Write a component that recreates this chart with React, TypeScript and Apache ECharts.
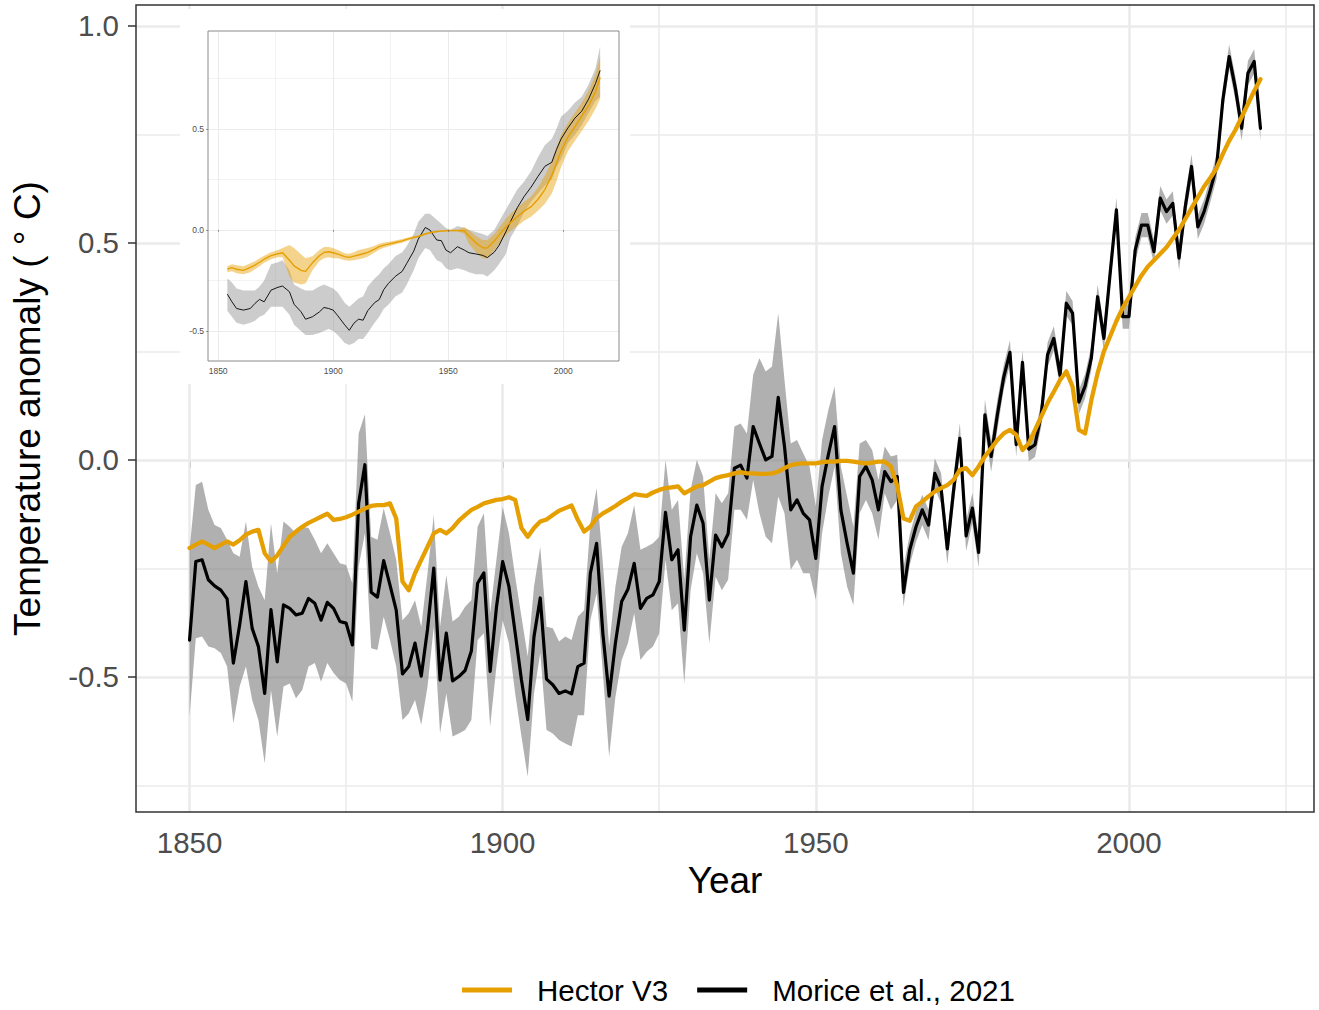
import React, { useEffect, useRef } from 'react';
import * as echarts from 'echarts';

// ---------------- data ----------------
const startYear = 1850;
const years: number[] = Array.from({ length: 172 }, (_, i) => startYear + i);

// Morice et al., 2021 (HadCRUT5) annual anomaly
const obs = [
  -0.415, -0.234, -0.23, -0.276, -0.29, -0.3, -0.32, -0.468, -0.38, -0.28,
  -0.388, -0.43, -0.538, -0.345, -0.465, -0.334, -0.342, -0.357, -0.353, -0.319,
  -0.33, -0.369, -0.328, -0.342, -0.372, -0.376, -0.426, -0.1, -0.011, -0.305,
  -0.316, -0.232, -0.288, -0.346, -0.493, -0.476, -0.422, -0.498, -0.39, -0.249,
  -0.507, -0.399, -0.509, -0.499, -0.485, -0.44, -0.284, -0.26, -0.487, -0.34,
  -0.234, -0.292, -0.399, -0.507, -0.598, -0.407, -0.318, -0.505, -0.518, -0.538,
  -0.532, -0.539, -0.476, -0.468, -0.261, -0.192, -0.4, -0.544, -0.422, -0.326,
  -0.298, -0.238, -0.342, -0.319, -0.311, -0.28, -0.121, -0.23, -0.207, -0.392,
  -0.177, -0.104, -0.146, -0.323, -0.173, -0.2, -0.17, -0.019, -0.012, -0.042,
  0.077, 0.038, 0.0, 0.008, 0.144, 0.031, -0.115, -0.092, -0.123, -0.138,
  -0.227, -0.061, 0.012, 0.077, -0.115, -0.192, -0.261, -0.038, -0.015, -0.046,
  -0.115, -0.027, -0.05, -0.038, -0.305, -0.207, -0.154, -0.115, -0.15, -0.031,
  -0.065, -0.205, -0.07, 0.05, -0.175, -0.111, -0.213, 0.104, 0.008, 0.105,
  0.19, 0.248, 0.035, 0.225, 0.025, 0.035, 0.105, 0.242, 0.28, 0.195,
  0.361, 0.338, 0.133, 0.17, 0.235, 0.376, 0.28, 0.43, 0.576, 0.33,
  0.33, 0.484, 0.541, 0.541, 0.48, 0.603, 0.572, 0.591, 0.465, 0.584,
  0.676, 0.537, 0.572, 0.622, 0.676, 0.83, 0.929, 0.856, 0.764, 0.891,
  0.918, 0.764,
];

const obsUpper = [
  -0.207, -0.058, -0.05, -0.115, -0.15, -0.157, -0.184, -0.215, -0.223, -0.142,
  -0.246, -0.292, -0.323, -0.146, -0.261, -0.142, -0.154, -0.169, -0.154, -0.157,
  -0.184, -0.215, -0.192, -0.215, -0.238, -0.242, -0.284, 0.061, 0.105, -0.177,
  -0.184, -0.111, -0.169, -0.23, -0.369, -0.353, -0.323, -0.384, -0.261, -0.127,
  -0.384, -0.265, -0.372, -0.361, -0.338, -0.323, -0.154, -0.123, -0.353, -0.23,
  -0.108, -0.169, -0.269, -0.361, -0.453, -0.292, -0.2, -0.384, -0.388, -0.418,
  -0.407, -0.415, -0.361, -0.346, -0.146, -0.065, -0.238, -0.43, -0.292, -0.2,
  -0.169, -0.104, -0.207, -0.2, -0.192, -0.177, 0.0, -0.115, -0.092, -0.276,
  -0.069, 0.0, -0.038, -0.23, -0.077, -0.1, -0.077, 0.077, 0.084, 0.061,
  0.196, 0.234, 0.204, 0.215, 0.338, 0.184, 0.038, 0.046, 0.015, -0.015,
  -0.107, 0.046, 0.115, 0.169, -0.015, -0.084, -0.154, 0.038, 0.046, 0.023,
  -0.046, 0.031, 0.008, 0.012, -0.246, -0.172, -0.119, -0.08, -0.115, 0.004,
  -0.03, -0.17, -0.035, 0.085, -0.14, -0.076, -0.178, 0.139, 0.043, 0.14,
  0.218, 0.276, 0.063, 0.253, 0.053, 0.063, 0.133, 0.27, 0.308, 0.223,
  0.389, 0.366, 0.161, 0.198, 0.263, 0.404, 0.308, 0.458, 0.604, 0.358,
  0.358, 0.512, 0.569, 0.569, 0.508, 0.631, 0.6, 0.619, 0.493, 0.612,
  0.704, 0.565, 0.6, 0.65, 0.704, 0.858, 0.957, 0.884, 0.792, 0.919,
  0.946, 0.792,
];

const obsLower = [
  -0.591, -0.411, -0.407, -0.43, -0.434, -0.445, -0.476, -0.607, -0.522, -0.476,
  -0.553, -0.599, -0.699, -0.53, -0.637, -0.522, -0.515, -0.549, -0.53, -0.476,
  -0.468, -0.511, -0.468, -0.491, -0.507, -0.515, -0.557, -0.246, -0.169, -0.434,
  -0.438, -0.361, -0.415, -0.476, -0.599, -0.584, -0.553, -0.61, -0.522, -0.384,
  -0.63, -0.538, -0.637, -0.63, -0.622, -0.599, -0.415, -0.399, -0.614, -0.476,
  -0.369, -0.422, -0.538, -0.637, -0.73, -0.538, -0.445, -0.622, -0.63, -0.645,
  -0.653, -0.66, -0.588, -0.588, -0.369, -0.307, -0.491, -0.684, -0.546, -0.461,
  -0.422, -0.353, -0.461, -0.442, -0.43, -0.399, -0.23, -0.346, -0.33, -0.515,
  -0.3, -0.215, -0.261, -0.422, -0.269, -0.3, -0.276, -0.115, -0.115, -0.138,
  -0.046, -0.123, -0.177, -0.192, -0.084, -0.123, -0.253, -0.23, -0.261, -0.261,
  -0.322, -0.169, -0.084, -0.015, -0.215, -0.292, -0.334, -0.123, -0.092, -0.123,
  -0.184, -0.077, -0.115, -0.092, -0.338, -0.242, -0.189, -0.15, -0.185, -0.066,
  -0.1, -0.24, -0.105, 0.015, -0.21, -0.146, -0.248, 0.069, -0.027, 0.07,
  0.162, 0.22, 0.007, 0.197, -0.003, 0.007, 0.077, 0.214, 0.252, 0.167,
  0.333, 0.31, 0.105, 0.142, 0.207, 0.348, 0.252, 0.402, 0.548, 0.302,
  0.302, 0.456, 0.513, 0.513, 0.452, 0.575, 0.544, 0.563, 0.437, 0.556,
  0.648, 0.509, 0.544, 0.594, 0.648, 0.802, 0.901, 0.828, 0.736, 0.863,
  0.89, 0.736,
];

// Hector V3 model output
const hector = [
  -0.203, -0.195, -0.188, -0.195, -0.203, -0.195, -0.188, -0.195, -0.185, -0.172,
  -0.165, -0.161, -0.215, -0.234, -0.22, -0.198, -0.177, -0.165, -0.154, -0.145,
  -0.138, -0.131, -0.124, -0.138, -0.136, -0.132, -0.126, -0.119, -0.112, -0.106,
  -0.104, -0.104, -0.1, -0.135, -0.28, -0.3, -0.261, -0.23, -0.2, -0.169,
  -0.161, -0.169, -0.157, -0.14, -0.127, -0.115, -0.108, -0.1, -0.096, -0.092,
  -0.09, -0.086, -0.092, -0.157, -0.177, -0.157, -0.142, -0.137, -0.127, -0.117,
  -0.111, -0.105, -0.138, -0.165, -0.154, -0.134, -0.123, -0.115, -0.106, -0.096,
  -0.088, -0.079, -0.081, -0.083, -0.075, -0.069, -0.065, -0.063, -0.061, -0.077,
  -0.069, -0.061, -0.058, -0.05, -0.042, -0.038, -0.035, -0.031, -0.028, -0.031,
  -0.031, -0.032, -0.032, -0.031, -0.027, -0.019, -0.012, -0.009, -0.008, -0.008,
  -0.008, -0.005, -0.004, -0.004, -0.002, -0.002, -0.004, -0.006, -0.008, -0.006,
  -0.004, -0.004, -0.015, -0.06, -0.135, -0.14, -0.107, -0.096, -0.084, -0.073,
  -0.065, -0.058, -0.046, -0.023, -0.019, -0.035, -0.015, 0.008, 0.027, 0.046,
  0.061, 0.069, 0.058, 0.023, 0.038, 0.069, 0.1, 0.131, 0.157, 0.184,
  0.204, 0.169, 0.069, 0.061, 0.138, 0.2, 0.25, 0.285, 0.32, 0.35,
  0.375, 0.4, 0.425, 0.445, 0.46, 0.475, 0.49, 0.51, 0.53, 0.555,
  0.58, 0.605, 0.63, 0.65, 0.672, 0.705, 0.735, 0.76, 0.79, 0.82,
  0.85, 0.877,
];

// Inset (smoothed) series
const insetYears = [
  1854, 1856, 1858, 1861, 1864, 1866, 1868, 1870, 1873, 1876,
  1878, 1881, 1883, 1886, 1888, 1891, 1894, 1896, 1898, 1900,
  1902, 1905, 1907, 1909, 1911, 1913, 1915, 1918, 1920, 1922,
  1924, 1927, 1930, 1932, 1935, 1937, 1940, 1942, 1945, 1947,
  1949, 1951, 1954, 1957, 1959, 1962, 1965, 1967, 1970, 1972,
  1975, 1977, 1980, 1983, 1986, 1989, 1992, 1995, 1997, 1999,
  2002, 2005, 2008, 2011, 2014, 2016,
];
const insetObs = [
  -0.318, -0.356, -0.389, -0.397, -0.389, -0.364, -0.344, -0.356, -0.298, -0.284,
  -0.278, -0.306, -0.368, -0.405, -0.442, -0.43, -0.406, -0.384, -0.389, -0.397,
  -0.425, -0.47, -0.497, -0.462, -0.442, -0.447, -0.4, -0.36, -0.345, -0.295,
  -0.265, -0.23, -0.205, -0.165, -0.105, -0.045, 0.012, 0.0, -0.05, -0.053,
  -0.1, -0.113, -0.083, -0.1, -0.113, -0.119, -0.126, -0.137, -0.11, -0.078,
  -0.01, 0.04, 0.11, 0.166, 0.212, 0.265, 0.315, 0.335, 0.397, 0.45,
  0.505, 0.553, 0.588, 0.648, 0.725, 0.79,
];
const insetObsUpper = [
  -0.24, -0.26, -0.29, -0.3, -0.3, -0.3, -0.28, -0.25, -0.17, -0.16,
  -0.15, -0.2, -0.27, -0.29, -0.3, -0.3, -0.28, -0.27, -0.28, -0.29,
  -0.31, -0.36, -0.38, -0.36, -0.34, -0.33, -0.28, -0.24, -0.22, -0.19,
  -0.17, -0.13, -0.11, -0.08, -0.02, 0.04, 0.08, 0.08, 0.05, 0.03,
  0.01, 0.0, 0.02, 0.01, 0.0, -0.01, -0.02, -0.03, 0.0, 0.04,
  0.1, 0.14, 0.2, 0.24, 0.29, 0.36, 0.42, 0.45, 0.5, 0.56,
  0.59, 0.63, 0.66, 0.72, 0.8, 0.91,
];
const insetObsLower = [
  -0.4, -0.43, -0.46, -0.47, -0.46, -0.45, -0.43, -0.42, -0.38, -0.38,
  -0.38, -0.42, -0.47, -0.5, -0.52, -0.52, -0.51, -0.5, -0.49, -0.5,
  -0.52, -0.56, -0.57, -0.56, -0.54, -0.54, -0.51, -0.46, -0.43, -0.39,
  -0.37, -0.33, -0.31, -0.27, -0.2, -0.14, -0.09, -0.1, -0.15, -0.16,
  -0.19, -0.2, -0.19, -0.2, -0.21, -0.22, -0.22, -0.23, -0.2, -0.17,
  -0.12, -0.04, 0.02, 0.09, 0.14, 0.18, 0.22, 0.25, 0.31, 0.35,
  0.43, 0.47, 0.52, 0.58, 0.64, 0.66,
];
const insetHector = [
  -0.194, -0.187, -0.195, -0.2, -0.185, -0.174, -0.16, -0.145, -0.127, -0.118,
  -0.113, -0.15, -0.178, -0.2, -0.205, -0.163, -0.128, -0.112, -0.108, -0.113,
  -0.12, -0.132, -0.136, -0.13, -0.124, -0.118, -0.111, -0.095, -0.083, -0.075,
  -0.07, -0.062, -0.054, -0.047, -0.037, -0.032, -0.02, -0.014, -0.008, -0.006,
  -0.004, -0.003, -0.003, -0.005, -0.03, -0.064, -0.088, -0.09, -0.055, -0.027,
  0.015, 0.036, 0.065, 0.093, 0.115, 0.152, 0.2, 0.27, 0.33, 0.39,
  0.46, 0.51, 0.563, 0.615, 0.685, 0.755,
];
const insetHectorUpper = [
  -0.18, -0.17, -0.175, -0.18, -0.165, -0.155, -0.14, -0.128, -0.11, -0.1,
  -0.09, -0.075, -0.09, -0.12, -0.14, -0.13, -0.1, -0.085, -0.085, -0.09,
  -0.1, -0.115, -0.118, -0.11, -0.1, -0.095, -0.09, -0.078, -0.068, -0.062,
  -0.058, -0.052, -0.045, -0.039, -0.03, -0.026, -0.015, -0.01, -0.005, -0.003,
  -0.001, 0.0, 0.0, 0.015, 0.0, -0.03, -0.05, -0.05, -0.02, 0.01,
  0.055, 0.08, 0.11, 0.14, 0.165, 0.21, 0.27, 0.34, 0.41, 0.47,
  0.53, 0.58, 0.63, 0.69, 0.77, 0.86,
];
const insetHectorLower = [
  -0.21, -0.205, -0.215, -0.22, -0.21, -0.195, -0.18, -0.163, -0.145, -0.135,
  -0.135, -0.23, -0.26, -0.27, -0.265, -0.2, -0.155, -0.14, -0.135, -0.14,
  -0.14, -0.15, -0.153, -0.15, -0.145, -0.14, -0.133, -0.112, -0.098, -0.088,
  -0.082, -0.072, -0.063, -0.055, -0.044, -0.038, -0.025, -0.018, -0.012, -0.009,
  -0.007, -0.006, -0.006, -0.02, -0.07, -0.11, -0.14, -0.14, -0.1, -0.07,
  -0.025, -0.005, 0.02, 0.045, 0.065, 0.095, 0.13, 0.18, 0.24, 0.31,
  0.39, 0.44, 0.49, 0.54, 0.6, 0.65,
];

// axis ticks / grid breaks
const mainXTicks = [1850, 1900, 1950, 2000];
const mainXMinor = [1875, 1925, 1975, 2025];
const mainYTicks = [-0.5, 0, 0.5, 1.0];
const mainYMinor = [-0.75, -0.25, 0.25, 0.75];
const insetXTicks = [1850, 1900, 1950, 2000];
const insetXMinor = [1875, 1925, 1975];
const insetYTicks = [-0.5, 0, 0.5];
const insetYMinor = [-0.25, 0.25, 0.75];

// ---------------- styling ----------------
const FONT = "'Liberation Sans', Arial, Helvetica, sans-serif";
const ORANGE = '#E69F00';
const GRID_COL = '#EBEBEB';

function band(name: string, xi: number, xs: number[], lo: number[], hi: number[], fill: string, z: number, markLine?: any) {
  return {
    type: 'custom',
    name,
    xAxisIndex: xi,
    yAxisIndex: xi,
    z,
    silent: true,
    clip: true,
    data: xs.map((x, i) => [x, lo[i], hi[i]]),
    encode: { x: 0, y: [1, 2] },
    renderItem: (params: any, api: any) => {
      if (params.dataIndex !== 0) return null;
      const pts: number[][] = [];
      for (let i = 0; i < xs.length; i++) pts.push(api.coord([xs[i], hi[i]]));
      for (let i = xs.length - 1; i >= 0; i--) pts.push(api.coord([xs[i], lo[i]]));
      return { type: 'polygon', shape: { points: pts }, style: { fill }, silent: true };
    },
    ...(markLine ? { markLine } : {}),
  };
}

function gridLines(majX: number[], minX: number[], majY: number[], minY: number[], wMaj: number, wMin: number, z: number) {
  const d: any[] = [];
  majX.forEach((v) => d.push({ xAxis: v, lineStyle: { color: GRID_COL, width: wMaj, type: 'solid' } }));
  minX.forEach((v) => d.push({ xAxis: v, lineStyle: { color: GRID_COL, width: wMin, type: 'solid' } }));
  majY.forEach((v) => d.push({ yAxis: v, lineStyle: { color: GRID_COL, width: wMaj, type: 'solid' } }));
  minY.forEach((v) => d.push({ yAxis: v, lineStyle: { color: GRID_COL, width: wMin, type: 'solid' } }));
  return {
    silent: true,
    z,
    symbol: ['none', 'none'],
    label: { show: false },
    emphasis: { disabled: true },
    animation: false,
    data: d,
  };
}

function buildOption() {
  return {
    animation: false,
    backgroundColor: '#ffffff',
    textStyle: { fontFamily: FONT },
    grid: [
      {
        left: 136, top: 5, width: 1178, height: 807,
        show: true, borderColor: '#333333', borderWidth: 1.5, backgroundColor: 'transparent',
        z: 8, outerBoundsMode: 'none', containLabel: false,
      },
      {
        left: 208, top: 31, width: 411, height: 330,
        show: true, borderColor: '#8a8a8a', borderWidth: 1, backgroundColor: 'transparent',
        z: 9, outerBoundsMode: 'none', containLabel: false,
      },
    ],
    xAxis: [
      {
        type: 'value', gridIndex: 0, min: 1841.45, max: 2029.55,
        axisLine: { show: false },
        splitLine: { show: false },
        axisTick: { show: true, customValues: mainXTicks, length: 8, lineStyle: { color: '#333333', width: 1.5 } },
        axisLabel: { customValues: mainXTicks, fontSize: 29.5, color: '#4D4D4D', margin: 15, formatter: (v: number) => String(v) },
        name: 'Year', nameLocation: 'middle', nameGap: 49,
        nameTextStyle: { fontSize: 37, color: '#000000' },
      },
      {
        type: 'value', gridIndex: 1, min: 1845.6, max: 2024.2, z: 9,
        axisLine: { show: false },
        splitLine: { show: false },
        axisTick: { show: true, customValues: insetXTicks, length: 2, lineStyle: { color: '#555555', width: 0.6 } },
        axisLabel: { customValues: insetXTicks, fontSize: 8.5, color: '#4D4D4D', margin: 5, formatter: (v: number) => String(v) },
      },
    ],
    yAxis: [
      {
        type: 'value', gridIndex: 0, min: -0.811, max: 1.048,
        axisLine: { show: false },
        splitLine: { show: false },
        axisTick: { show: true, customValues: mainYTicks, length: 8, lineStyle: { color: '#333333', width: 1.5 } },
        axisLabel: { customValues: mainYTicks, fontSize: 29.5, color: '#4D4D4D', margin: 17, formatter: (v: number) => v.toFixed(1) },
        name: 'Temperature anomaly ( \u00B0 C)', nameLocation: 'middle', nameGap: 90, nameRotate: 90,
        nameTextStyle: { fontSize: 37, color: '#000000' },
      },
      {
        type: 'value', gridIndex: 1, min: -0.649, max: 0.985, z: 9,
        axisLine: { show: false },
        splitLine: { show: false },
        axisTick: { show: true, customValues: insetYTicks, length: 2, lineStyle: { color: '#555555', width: 0.6 } },
        axisLabel: { customValues: insetYTicks, fontSize: 8.5, color: '#4D4D4D', margin: 4, formatter: (v: number) => v.toFixed(1) },
      },
    ],
    legend: {
      show: true,
      left: 457,
      top: 970,
      orient: 'horizontal',
      icon: 'rect',
      itemWidth: 50,
      itemHeight: 5,
      itemGap: 29,
      selectedMode: false,
      data: ['Hector V3', 'Morice et al., 2021'],
      textStyle: { fontSize: 29.5, color: '#000000', fontFamily: FONT, padding: [0, 0, 0, 20] },
    },
    graphic: [
      {
        type: 'rect',
        z: 3,
        silent: true,
        shape: { x: 180, y: 9, width: 450, height: 375 },
        style: { fill: '#ffffff' },
      },
    ],
    series: [
      band('obsBand', 0, years, obsLower, obsUpper, 'rgba(127,127,127,0.62)', 2,
        gridLines(mainXTicks, mainXMinor, mainYTicks, mainYMinor, 2.6, 1.6, 1)),
      {
        type: 'line', name: 'Hector V3', xAxisIndex: 0, yAxisIndex: 0, z: 4,
        data: years.map((y, i) => [y, hector[i]]),
        showSymbol: false, symbol: 'none', color: ORANGE,
        lineStyle: { color: ORANGE, width: 4.3, join: 'round', cap: 'round' },
        silent: true,
      },
      {
        type: 'line', name: 'Morice et al., 2021', xAxisIndex: 0, yAxisIndex: 0, z: 3,
        data: years.map((y, i) => [y, obs[i]]),
        showSymbol: false, symbol: 'none', color: '#000000',
        lineStyle: { color: '#000000', width: 3.2, join: 'round', cap: 'round' },
        silent: true,
      },
      band('insetObsBand', 1, insetYears, insetObsLower, insetObsUpper, 'rgba(127,127,127,0.4)', 5,
        gridLines(insetXTicks, insetXMinor, insetYTicks, insetYMinor, 1, 0.6, 4)),
      band('insetHectorBand', 1, insetYears, insetHectorLower, insetHectorUpper, 'rgba(230,159,0,0.45)', 6),
      {
        type: 'line', name: 'inset obs', xAxisIndex: 1, yAxisIndex: 1, z: 7,
        data: insetYears.map((y, i) => [y, insetObs[i]]),
        showSymbol: false, symbol: 'none', color: '#000000',
        lineStyle: { color: '#000000', width: 0.9, join: 'round' },
        silent: true,
      },
      {
        type: 'line', name: 'inset hector', xAxisIndex: 1, yAxisIndex: 1, z: 7,
        data: insetYears.map((y, i) => [y, insetHector[i]]),
        showSymbol: false, symbol: 'none', color: ORANGE,
        lineStyle: { color: ORANGE, width: 1.4, join: 'round' },
        silent: true,
      },
    ],
  };
}

export default function App() {
  const ref = useRef<HTMLDivElement>(null);
  useEffect(() => {
    if (!ref.current) return;
    const chart = echarts.init(ref.current, null, { renderer: 'svg' });
    chart.setOption(buildOption() as any);
    return () => chart.dispose();
  }, []);
  return (
    <div
      ref={ref}
      style={{ position: 'fixed', left: 0, top: 0, width: 1319, height: 1010, background: '#ffffff' }}
    />
  );
}
